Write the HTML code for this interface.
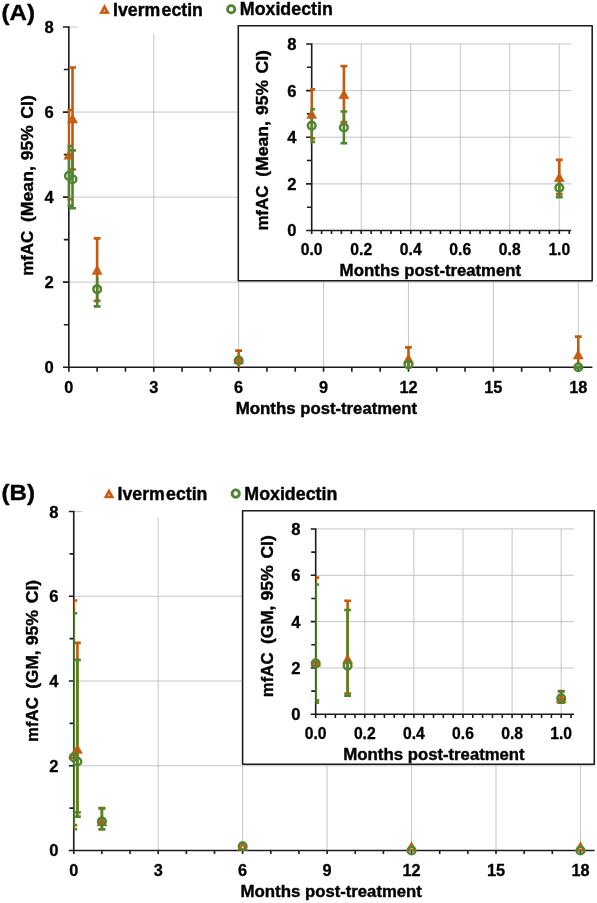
<!DOCTYPE html>
<html><head><meta charset="utf-8"><title>mfAC</title>
<style>html,body{margin:0;padding:0;background:#fff}svg{display:block;will-change:transform}text{font-family:"Liberation Sans",sans-serif;font-weight:bold;fill:#000;stroke:#000;stroke-width:.4px;stroke-linejoin:round}text.t{stroke-width:.3px}</style></head><body>
<svg width="597" height="903" viewBox="0 0 597 903">
<defs><filter id="soft" x="0" y="0" width="597" height="903" filterUnits="userSpaceOnUse"><feGaussianBlur stdDeviation="0.5"/></filter></defs>
<rect width="597" height="903" fill="#fff"/>
<g filter="url(#soft)">
<clipPath id="cAm"><rect x="67.50" y="22.04" width="533.55" height="346.46"/></clipPath>
<line x1="153.75" x2="153.75" y1="33.54" y2="367.20" stroke="#C2C2C2" stroke-width="0.95"/>
<line x1="238.65" x2="238.65" y1="33.54" y2="367.20" stroke="#C2C2C2" stroke-width="0.95"/>
<line x1="323.55" x2="323.55" y1="33.54" y2="367.20" stroke="#C2C2C2" stroke-width="0.95"/>
<line x1="408.45" x2="408.45" y1="33.54" y2="367.20" stroke="#C2C2C2" stroke-width="0.95"/>
<line x1="493.35" x2="493.35" y1="33.54" y2="367.20" stroke="#C2C2C2" stroke-width="0.95"/>
<line x1="578.25" x2="578.25" y1="33.54" y2="367.20" stroke="#C2C2C2" stroke-width="0.95"/>
<line x1="68.85" x2="592.40" y1="282.16" y2="282.16" stroke="#C2C2C2" stroke-width="0.95"/>
<line x1="68.85" x2="592.40" y1="197.12" y2="197.12" stroke="#C2C2C2" stroke-width="0.95"/>
<line x1="68.85" x2="592.40" y1="112.08" y2="112.08" stroke="#C2C2C2" stroke-width="0.95"/>
<line x1="68.85" x2="77.35" y1="27.04" y2="27.04" stroke="#C2C2C2" stroke-width="0.95"/>
<path d="M68.85 26.24 V367.20 M68.05 367.20 H592.40 M62.95 367.20 H68.85 M63.85 324.68 H68.85 M62.95 282.16 H68.85 M63.85 239.64 H68.85 M62.95 197.12 H68.85 M63.85 154.60 H68.85 M62.95 112.08 H68.85 M63.85 69.56 H68.85 M62.95 27.04 H68.85 M68.85 367.20 V371.70 M97.15 367.20 V371.70 M125.45 367.20 V371.70 M153.75 367.20 V371.70 M182.05 367.20 V371.70 M210.35 367.20 V371.70 M238.65 367.20 V371.70 M266.95 367.20 V371.70 M295.25 367.20 V371.70 M323.55 367.20 V371.70 M351.85 367.20 V371.70 M380.15 367.20 V371.70 M408.45 367.20 V371.70 M436.75 367.20 V371.70 M465.05 367.20 V371.70 M493.35 367.20 V371.70 M521.65 367.20 V371.70 M549.95 367.20 V371.70 M578.25 367.20 V371.70" stroke="#1a1a1a" stroke-width="1.6" fill="none"/>
<text x="53.65" y="373.18" font-size="16.6" text-anchor="end" fill="#000" class="t">0</text>
<text x="53.65" y="288.14" font-size="16.6" text-anchor="end" fill="#000" class="t">2</text>
<text x="53.65" y="203.1" font-size="16.6" text-anchor="end" fill="#000" class="t">4</text>
<text x="53.65" y="118.06" font-size="16.6" text-anchor="end" fill="#000" class="t">6</text>
<text x="53.65" y="33.02" font-size="16.6" text-anchor="end" fill="#000" class="t">8</text>
<text x="68.85" y="393.0" font-size="16.3" text-anchor="middle" fill="#000" class="t">0</text>
<text x="153.75" y="393.0" font-size="16.3" text-anchor="middle" fill="#000" class="t">3</text>
<text x="238.65" y="393.0" font-size="16.3" text-anchor="middle" fill="#000" class="t">6</text>
<text x="323.55" y="393.0" font-size="16.3" text-anchor="middle" fill="#000" class="t">9</text>
<text x="408.45" y="393.0" font-size="16.3" text-anchor="middle" fill="#000" class="t">12</text>
<text x="493.35" y="393.0" font-size="16.3" text-anchor="middle" fill="#000" class="t">15</text>
<text x="578.25" y="393.0" font-size="16.3" text-anchor="middle" fill="#000" class="t">18</text>
<g clip-path="url(#cAm)">
<path d="M68.85 199.25 V109.95 M65.45 109.95 H72.25 M65.45 199.25 H72.25" stroke="#C55A11" stroke-width="2.6" fill="none"/>
<path d="M72.53 169.48 V67.43 M69.13 67.43 H75.93 M69.13 169.48 H75.93" stroke="#C55A11" stroke-width="2.6" fill="none"/>
<path d="M97.15 300.87 V238.36 M93.75 238.36 H100.55 M93.75 300.87 H100.55" stroke="#C55A11" stroke-width="2.6" fill="none"/>
<path d="M238.65 367.20 V350.62 M235.25 350.62 H242.05" stroke="#C55A11" stroke-width="2.6" fill="none"/>
<path d="M408.45 367.20 V347.39 M405.05 347.39 H411.85" stroke="#C55A11" stroke-width="2.6" fill="none"/>
<path d="M578.25 362.95 V336.59 M574.85 336.59 H581.65" stroke="#C55A11" stroke-width="2.6" fill="none"/>
<path d="M68.85 205.62 V146.10 M65.45 146.10 H72.25 M65.45 205.62 H72.25" stroke="#4F8530" stroke-width="2.6" fill="none"/>
<path d="M72.53 208.18 V150.35 M69.13 150.35 H75.93 M69.13 208.18 H75.93" stroke="#4F8530" stroke-width="2.6" fill="none"/>
<path d="M97.15 306.40 V277.06 M93.75 306.40 H100.55" stroke="#4F8530" stroke-width="2.6" fill="none"/>
<path d="M408.45 367.20 V361.25" stroke="#4F8530" stroke-width="2.6" fill="none"/>
</g>
<path d="M574.85 367.20 H581.65" stroke="#4F8530" stroke-width="3.4" fill="none"/>
<path d="M68.85 149.95 L73.95 159.25 L63.75 159.25 Z M68.85 154.01 L70.66 157.30 L67.04 157.30 Z" fill="#C55A11" fill-rule="evenodd" stroke="#C55A11" stroke-width="0.4" stroke-linejoin="round"/>
<path d="M72.53 113.81 L77.63 123.11 L67.43 123.11 Z M72.53 117.86 L74.34 121.16 L70.72 121.16 Z" fill="#C55A11" fill-rule="evenodd" stroke="#C55A11" stroke-width="0.4" stroke-linejoin="round"/>
<path d="M97.15 265.18 L102.25 274.48 L92.05 274.48 Z M97.15 269.23 L98.96 272.53 L95.34 272.53 Z" fill="#C55A11" fill-rule="evenodd" stroke="#C55A11" stroke-width="0.4" stroke-linejoin="round"/>
<path d="M238.65 354.47 L243.75 363.77 L233.55 363.77 Z M238.65 358.53 L240.46 361.82 L236.84 361.82 Z" fill="#C55A11" fill-rule="evenodd" stroke="#C55A11" stroke-width="0.4" stroke-linejoin="round"/>
<path d="M408.45 353.75 L413.55 363.05 L403.35 363.05 Z M408.45 357.80 L410.26 361.10 L406.64 361.10 Z" fill="#C55A11" fill-rule="evenodd" stroke="#C55A11" stroke-width="0.4" stroke-linejoin="round"/>
<path d="M578.25 349.79 L583.35 359.09 L573.15 359.09 Z M578.25 353.85 L580.06 357.14 L576.44 357.14 Z" fill="#C55A11" fill-rule="evenodd" stroke="#C55A11" stroke-width="0.4" stroke-linejoin="round"/>
<circle cx="68.85" cy="175.86" r="3.8" fill="none" stroke="#4F8530" stroke-width="2.5"/>
<circle cx="72.53" cy="179.26" r="3.8" fill="none" stroke="#4F8530" stroke-width="2.5"/>
<circle cx="97.15" cy="289.18" r="3.8" fill="none" stroke="#4F8530" stroke-width="2.5"/>
<circle cx="238.65" cy="360.48" r="3.8" fill="none" stroke="#4F8530" stroke-width="2.5"/>
<circle cx="408.45" cy="364.52" r="3.8" fill="none" stroke="#4F8530" stroke-width="2.5"/>
<circle cx="578.25" cy="367.20" r="3.8" fill="none" stroke="#4F8530" stroke-width="2.5"/>
<rect x="238.3" y="25.7" width="353.90000000000003" height="255.0" fill="#fff" stroke="#1a1a1a" stroke-width="1.55" stroke-linejoin="round"/>
<clipPath id="cAi"><rect x="310.35" y="38.94" width="269.48" height="192.86"/></clipPath>
<line x1="361.22" x2="361.22" y1="43.94" y2="230.50" stroke="#C2C2C2" stroke-width="0.95"/>
<line x1="410.74" x2="410.74" y1="43.94" y2="230.50" stroke="#C2C2C2" stroke-width="0.95"/>
<line x1="460.26" x2="460.26" y1="43.94" y2="230.50" stroke="#C2C2C2" stroke-width="0.95"/>
<line x1="509.78" x2="509.78" y1="43.94" y2="230.50" stroke="#C2C2C2" stroke-width="0.95"/>
<line x1="559.30" x2="559.30" y1="43.94" y2="230.50" stroke="#C2C2C2" stroke-width="0.95"/>
<line x1="311.70" x2="571.18" y1="183.86" y2="183.86" stroke="#C2C2C2" stroke-width="0.95"/>
<line x1="311.70" x2="571.18" y1="137.22" y2="137.22" stroke="#C2C2C2" stroke-width="0.95"/>
<line x1="311.70" x2="571.18" y1="90.58" y2="90.58" stroke="#C2C2C2" stroke-width="0.95"/>
<line x1="311.70" x2="571.18" y1="43.94" y2="43.94" stroke="#C2C2C2" stroke-width="0.95"/>
<path d="M311.70 43.14 V230.50 M310.90 230.50 H571.18 M306.10 230.50 H311.70 M306.90 207.18 H311.70 M306.10 183.86 H311.70 M306.90 160.54 H311.70 M306.10 137.22 H311.70 M306.90 113.90 H311.70 M306.10 90.58 H311.70 M306.90 67.26 H311.70 M306.10 43.94 H311.70 M311.70 230.50 V234.10 M321.60 230.50 V234.10 M331.51 230.50 V234.10 M341.41 230.50 V234.10 M351.32 230.50 V234.10 M361.22 230.50 V234.10 M371.12 230.50 V234.10 M381.03 230.50 V234.10 M390.93 230.50 V234.10 M400.84 230.50 V234.10 M410.74 230.50 V234.10 M420.64 230.50 V234.10 M430.55 230.50 V234.10 M440.45 230.50 V234.10 M450.36 230.50 V234.10 M460.26 230.50 V234.10 M470.16 230.50 V234.10 M480.07 230.50 V234.10 M489.97 230.50 V234.10 M499.88 230.50 V234.10 M509.78 230.50 V234.10 M519.68 230.50 V234.10 M529.59 230.50 V234.10 M539.49 230.50 V234.10 M549.40 230.50 V234.10 M559.30 230.50 V234.10 M569.20 230.50 V234.10" stroke="#1a1a1a" stroke-width="1.6" fill="none"/>
<text x="296.5" y="236.48" font-size="16.6" text-anchor="end" fill="#000" class="t">0</text>
<text x="296.5" y="189.84" font-size="16.6" text-anchor="end" fill="#000" class="t">2</text>
<text x="296.5" y="143.2" font-size="16.6" text-anchor="end" fill="#000" class="t">4</text>
<text x="296.5" y="96.56" font-size="16.6" text-anchor="end" fill="#000" class="t">6</text>
<text x="296.5" y="49.92" font-size="16.6" text-anchor="end" fill="#000" class="t">8</text>
<text x="311.7" y="254.7" font-size="15.7" text-anchor="middle" fill="#000" class="t">0.0</text>
<text x="361.22" y="254.7" font-size="15.7" text-anchor="middle" fill="#000" class="t">0.2</text>
<text x="410.74" y="254.7" font-size="15.7" text-anchor="middle" fill="#000" class="t">0.4</text>
<text x="460.26" y="254.7" font-size="15.7" text-anchor="middle" fill="#000" class="t">0.6</text>
<text x="509.78" y="254.7" font-size="15.7" text-anchor="middle" fill="#000" class="t">0.8</text>
<text x="559.3" y="254.7" font-size="15.7" text-anchor="middle" fill="#000" class="t">1.0</text>
<g clip-path="url(#cAi)">
<path d="M311.70 138.39 V89.41 M308.30 89.41 H315.10 M308.30 138.39 H315.10" stroke="#C55A11" stroke-width="2.6" fill="none"/>
<path d="M343.89 122.06 V66.09 M340.49 66.09 H347.29 M340.49 122.06 H347.29" stroke="#C55A11" stroke-width="2.6" fill="none"/>
<path d="M559.30 194.12 V159.84 M555.90 159.84 H562.70 M555.90 194.12 H562.70" stroke="#C55A11" stroke-width="2.6" fill="none"/>
<path d="M311.70 141.88 V109.24 M308.30 109.24 H315.10 M308.30 141.88 H315.10" stroke="#4F8530" stroke-width="2.6" fill="none"/>
<path d="M343.89 143.28 V111.57 M340.49 111.57 H347.29 M340.49 143.28 H347.29" stroke="#4F8530" stroke-width="2.6" fill="none"/>
<path d="M559.30 197.15 V181.06 M555.90 197.15 H562.70" stroke="#4F8530" stroke-width="2.6" fill="none"/>
</g>
<path d="M311.70 109.25 L316.80 118.55 L306.60 118.55 Z M311.70 113.31 L313.51 116.60 L309.89 116.60 Z" fill="#C55A11" fill-rule="evenodd" stroke="#C55A11" stroke-width="0.4" stroke-linejoin="round"/>
<path d="M343.89 89.43 L348.99 98.73 L338.79 98.73 Z M343.89 93.48 L345.69 96.78 L342.08 96.78 Z" fill="#C55A11" fill-rule="evenodd" stroke="#C55A11" stroke-width="0.4" stroke-linejoin="round"/>
<path d="M559.30 172.45 L564.40 181.75 L554.20 181.75 Z M559.30 176.50 L561.11 179.80 L557.49 179.80 Z" fill="#C55A11" fill-rule="evenodd" stroke="#C55A11" stroke-width="0.4" stroke-linejoin="round"/>
<circle cx="311.70" cy="125.56" r="3.8" fill="none" stroke="#4F8530" stroke-width="2.5"/>
<circle cx="343.89" cy="127.43" r="3.8" fill="none" stroke="#4F8530" stroke-width="2.5"/>
<circle cx="559.30" cy="187.71" r="3.8" fill="none" stroke="#4F8530" stroke-width="2.5"/>
<text x="235.7" y="413.7" font-size="16.6" text-anchor="start" fill="#000" textLength="60.0" lengthAdjust="spacingAndGlyphs">Months</text>
<text x="300.3" y="413.7" font-size="16.6" text-anchor="start" fill="#000" textLength="116.8" lengthAdjust="spacingAndGlyphs">post-treatment</text>
<text x="339.6" y="275.5" font-size="16.6" text-anchor="start" fill="#000" textLength="60.0" lengthAdjust="spacingAndGlyphs">Months</text>
<text x="404.2" y="275.5" font-size="16.6" text-anchor="start" fill="#000" textLength="116.8" lengthAdjust="spacingAndGlyphs">post-treatment</text>
<text x="32.7" y="275.8" font-size="17.4" fill="#000" textLength="44.9" lengthAdjust="spacingAndGlyphs" transform="rotate(-90 32.7 275.8)">mfAC</text>
<text x="32.7" y="222.0" font-size="17.4" fill="#000" textLength="55.8" lengthAdjust="spacingAndGlyphs" transform="rotate(-90 32.7 222.0)">(Mean,</text>
<text x="32.7" y="160.3" font-size="17.4" fill="#000" textLength="35.1" lengthAdjust="spacingAndGlyphs" transform="rotate(-90 32.7 160.3)">95%</text>
<text x="32.7" y="118.8" font-size="17.4" fill="#000" textLength="23.6" lengthAdjust="spacingAndGlyphs" transform="rotate(-90 32.7 118.8)">CI)</text>
<text x="267.9" y="230.6" font-size="17.4" fill="#000" textLength="44.9" lengthAdjust="spacingAndGlyphs" transform="rotate(-90 267.9 230.6)">mfAC</text>
<text x="267.9" y="176.8" font-size="17.4" fill="#000" textLength="55.8" lengthAdjust="spacingAndGlyphs" transform="rotate(-90 267.9 176.8)">(Mean,</text>
<text x="267.9" y="115.1" font-size="17.4" fill="#000" textLength="35.1" lengthAdjust="spacingAndGlyphs" transform="rotate(-90 267.9 115.1)">95%</text>
<text x="267.9" y="73.6" font-size="17.4" fill="#000" textLength="23.6" lengthAdjust="spacingAndGlyphs" transform="rotate(-90 267.9 73.6)">CI)</text>
<text x="1.6" y="20.2" font-size="22.6" text-anchor="start" fill="#000" textLength="33.4" lengthAdjust="spacingAndGlyphs">(A)</text>
<path d="M104.50 4.40 L109.60 13.70 L99.40 13.70 Z M104.50 9.18 L105.72 11.40 L103.28 11.40 Z" fill="#C55A11" fill-rule="evenodd" stroke="#C55A11" stroke-width="0.4" stroke-linejoin="round"/>
<text x="113.1" y="15.5" font-size="17.7" text-anchor="start" fill="#000">Iverm</text>
<text x="161.6" y="15.5" font-size="17.7" text-anchor="start" fill="#000">ectin</text>
<circle cx="231.20" cy="9.25" r="3.65" fill="none" stroke="#4F8530" stroke-width="2.9"/>
<text x="239.8" y="15.4" font-size="17.7" text-anchor="start" fill="#000" textLength="93.0" lengthAdjust="spacingAndGlyphs">Moxidectin</text>
<clipPath id="cBm"><rect x="73.65" y="506.54" width="530.77" height="345.26"/></clipPath>
<line x1="158.20" x2="158.20" y1="518.04" y2="850.50" stroke="#C2C2C2" stroke-width="0.95"/>
<line x1="242.65" x2="242.65" y1="518.04" y2="850.50" stroke="#C2C2C2" stroke-width="0.95"/>
<line x1="327.10" x2="327.10" y1="518.04" y2="850.50" stroke="#C2C2C2" stroke-width="0.95"/>
<line x1="411.55" x2="411.55" y1="518.04" y2="850.50" stroke="#C2C2C2" stroke-width="0.95"/>
<line x1="496.00" x2="496.00" y1="518.04" y2="850.50" stroke="#C2C2C2" stroke-width="0.95"/>
<line x1="580.45" x2="580.45" y1="518.04" y2="850.50" stroke="#C2C2C2" stroke-width="0.95"/>
<line x1="73.75" x2="594.52" y1="765.76" y2="765.76" stroke="#C2C2C2" stroke-width="0.95"/>
<line x1="73.75" x2="594.52" y1="681.02" y2="681.02" stroke="#C2C2C2" stroke-width="0.95"/>
<line x1="73.75" x2="594.52" y1="596.28" y2="596.28" stroke="#C2C2C2" stroke-width="0.95"/>
<line x1="73.75" x2="82.25" y1="511.54" y2="511.54" stroke="#C2C2C2" stroke-width="0.95"/>
<path d="M73.75 510.74 V850.50 M72.95 850.50 H594.52 M68.85 850.50 H73.75 M69.55 808.13 H73.75 M68.85 765.76 H73.75 M69.55 723.39 H73.75 M68.85 681.02 H73.75 M69.55 638.65 H73.75 M68.85 596.28 H73.75 M69.55 553.91 H73.75 M68.85 511.54 H73.75 M73.75 850.50 V854.10 M101.90 850.50 V854.10 M130.05 850.50 V854.10 M158.20 850.50 V854.10 M186.35 850.50 V854.10 M214.50 850.50 V854.10 M242.65 850.50 V854.10 M270.80 850.50 V854.10 M298.95 850.50 V854.10 M327.10 850.50 V854.10 M355.25 850.50 V854.10 M383.40 850.50 V854.10 M411.55 850.50 V854.10 M439.70 850.50 V854.10 M467.85 850.50 V854.10 M496.00 850.50 V854.10 M524.15 850.50 V854.10 M552.30 850.50 V854.10 M580.45 850.50 V854.10" stroke="#1a1a1a" stroke-width="1.6" fill="none"/>
<text x="58.55" y="856.48" font-size="16.6" text-anchor="end" fill="#000" class="t">0</text>
<text x="58.55" y="771.74" font-size="16.6" text-anchor="end" fill="#000" class="t">2</text>
<text x="58.55" y="687.0" font-size="16.6" text-anchor="end" fill="#000" class="t">4</text>
<text x="58.55" y="602.26" font-size="16.6" text-anchor="end" fill="#000" class="t">6</text>
<text x="58.55" y="517.52" font-size="16.6" text-anchor="end" fill="#000" class="t">8</text>
<text x="73.75" y="876.3" font-size="16.3" text-anchor="middle" fill="#000" class="t">0</text>
<text x="158.2" y="876.3" font-size="16.3" text-anchor="middle" fill="#000" class="t">3</text>
<text x="242.65" y="876.3" font-size="16.3" text-anchor="middle" fill="#000" class="t">6</text>
<text x="327.1" y="876.3" font-size="16.3" text-anchor="middle" fill="#000" class="t">9</text>
<text x="411.55" y="876.3" font-size="16.3" text-anchor="middle" fill="#000" class="t">12</text>
<text x="496.0" y="876.3" font-size="16.3" text-anchor="middle" fill="#000" class="t">15</text>
<text x="580.45" y="876.3" font-size="16.3" text-anchor="middle" fill="#000" class="t">18</text>
<g clip-path="url(#cBm)">
<path d="M73.75 825.08 V600.52 M70.35 600.52 H77.15 M70.35 825.08 H77.15" stroke="#C55A11" stroke-width="2.6" fill="none"/>
<path d="M77.41 812.37 V642.89 M74.01 642.89 H80.81 M74.01 812.37 H80.81" stroke="#C55A11" stroke-width="2.6" fill="none"/>
<path d="M101.90 829.32 V808.13 M98.50 808.13 H105.30 M98.50 829.32 H105.30" stroke="#C55A11" stroke-width="2.6" fill="none"/>
<path d="M73.75 829.32 V613.23 M70.35 613.23 H77.15 M70.35 829.32 H77.15" stroke="#4F8530" stroke-width="2.6" fill="none"/>
<path d="M77.41 816.60 V659.84 M74.01 659.84 H80.81 M74.01 816.60 H80.81" stroke="#4F8530" stroke-width="2.6" fill="none"/>
<path d="M101.90 829.32 V808.34 M98.50 808.34 H105.30 M98.50 829.32 H105.30" stroke="#4F8530" stroke-width="2.6" fill="none"/>
</g>
<path d="M73.75 749.67 L78.85 758.97 L68.65 758.97 Z M73.75 753.73 L75.56 757.02 L71.94 757.02 Z" fill="#C55A11" fill-rule="evenodd" stroke="#C55A11" stroke-width="0.4" stroke-linejoin="round"/>
<path d="M77.41 744.16 L82.51 753.46 L72.31 753.46 Z M77.41 748.22 L79.22 751.51 L75.60 751.51 Z" fill="#C55A11" fill-rule="evenodd" stroke="#C55A11" stroke-width="0.4" stroke-linejoin="round"/>
<path d="M101.90 816.61 L107.00 825.91 L96.80 825.91 Z M101.90 820.67 L103.71 823.96 L100.09 823.96 Z" fill="#C55A11" fill-rule="evenodd" stroke="#C55A11" stroke-width="0.4" stroke-linejoin="round"/>
<path d="M242.65 841.19 L247.75 850.49 L237.55 850.49 Z M242.65 845.24 L244.46 848.54 L240.84 848.54 Z" fill="#C55A11" fill-rule="evenodd" stroke="#C55A11" stroke-width="0.4" stroke-linejoin="round"/>
<path d="M411.55 841.61 L416.65 850.91 L406.45 850.91 Z M411.55 845.67 L413.36 848.96 L409.74 848.96 Z" fill="#C55A11" fill-rule="evenodd" stroke="#C55A11" stroke-width="0.4" stroke-linejoin="round"/>
<path d="M580.45 841.61 L585.55 850.91 L575.35 850.91 Z M580.45 845.67 L582.26 848.96 L578.64 848.96 Z" fill="#C55A11" fill-rule="evenodd" stroke="#C55A11" stroke-width="0.4" stroke-linejoin="round"/>
<circle cx="73.75" cy="757.29" r="3.8" fill="none" stroke="#4F8530" stroke-width="2.5"/>
<circle cx="77.41" cy="761.52" r="3.8" fill="none" stroke="#4F8530" stroke-width="2.5"/>
<circle cx="101.90" cy="821.43" r="3.8" fill="none" stroke="#4F8530" stroke-width="2.5"/>
<circle cx="242.65" cy="846.26" r="3.8" fill="none" stroke="#4F8530" stroke-width="2.5"/>
<circle cx="411.55" cy="850.50" r="3.8" fill="none" stroke="#4F8530" stroke-width="2.5"/>
<circle cx="580.45" cy="850.50" r="3.8" fill="none" stroke="#4F8530" stroke-width="2.5"/>
<rect x="242.6" y="510.7" width="351.69999999999993" height="253.59999999999997" fill="#fff" stroke="#1a1a1a" stroke-width="1.55" stroke-linejoin="round"/>
<clipPath id="cBi"><rect x="315.60" y="523.94" width="268.39" height="191.66"/></clipPath>
<line x1="364.80" x2="364.80" y1="528.94" y2="714.30" stroke="#C2C2C2" stroke-width="0.95"/>
<line x1="413.90" x2="413.90" y1="528.94" y2="714.30" stroke="#C2C2C2" stroke-width="0.95"/>
<line x1="463.00" x2="463.00" y1="528.94" y2="714.30" stroke="#C2C2C2" stroke-width="0.95"/>
<line x1="512.10" x2="512.10" y1="528.94" y2="714.30" stroke="#C2C2C2" stroke-width="0.95"/>
<line x1="561.20" x2="561.20" y1="528.94" y2="714.30" stroke="#C2C2C2" stroke-width="0.95"/>
<line x1="315.70" x2="574.09" y1="667.96" y2="667.96" stroke="#C2C2C2" stroke-width="0.95"/>
<line x1="315.70" x2="574.09" y1="621.62" y2="621.62" stroke="#C2C2C2" stroke-width="0.95"/>
<line x1="315.70" x2="574.09" y1="575.28" y2="575.28" stroke="#C2C2C2" stroke-width="0.95"/>
<line x1="315.70" x2="574.09" y1="528.94" y2="528.94" stroke="#C2C2C2" stroke-width="0.95"/>
<path d="M315.70 528.14 V714.30 M314.90 714.30 H574.09 M310.70 714.30 H315.70 M311.30 691.13 H315.70 M310.70 667.96 H315.70 M311.30 644.79 H315.70 M310.70 621.62 H315.70 M311.30 598.45 H315.70 M310.70 575.28 H315.70 M311.30 552.11 H315.70 M310.70 528.94 H315.70 M315.70 714.30 V717.90 M325.52 714.30 V717.90 M335.34 714.30 V717.90 M345.16 714.30 V717.90 M354.98 714.30 V717.90 M364.80 714.30 V717.90 M374.62 714.30 V717.90 M384.44 714.30 V717.90 M394.26 714.30 V717.90 M404.08 714.30 V717.90 M413.90 714.30 V717.90 M423.72 714.30 V717.90 M433.54 714.30 V717.90 M443.36 714.30 V717.90 M453.18 714.30 V717.90 M463.00 714.30 V717.90 M472.82 714.30 V717.90 M482.64 714.30 V717.90 M492.46 714.30 V717.90 M502.28 714.30 V717.90 M512.10 714.30 V717.90 M521.92 714.30 V717.90 M531.74 714.30 V717.90 M541.56 714.30 V717.90 M551.38 714.30 V717.90 M561.20 714.30 V717.90 M571.02 714.30 V717.90" stroke="#1a1a1a" stroke-width="1.6" fill="none"/>
<text x="300.5" y="720.28" font-size="16.6" text-anchor="end" fill="#000" class="t">0</text>
<text x="300.5" y="673.94" font-size="16.6" text-anchor="end" fill="#000" class="t">2</text>
<text x="300.5" y="627.6" font-size="16.6" text-anchor="end" fill="#000" class="t">4</text>
<text x="300.5" y="581.26" font-size="16.6" text-anchor="end" fill="#000" class="t">6</text>
<text x="300.5" y="534.92" font-size="16.6" text-anchor="end" fill="#000" class="t">8</text>
<text x="315.7" y="738.5" font-size="15.7" text-anchor="middle" fill="#000" class="t">0.0</text>
<text x="364.8" y="738.5" font-size="15.7" text-anchor="middle" fill="#000" class="t">0.2</text>
<text x="413.9" y="738.5" font-size="15.7" text-anchor="middle" fill="#000" class="t">0.4</text>
<text x="463.0" y="738.5" font-size="15.7" text-anchor="middle" fill="#000" class="t">0.6</text>
<text x="512.1" y="738.5" font-size="15.7" text-anchor="middle" fill="#000" class="t">0.8</text>
<text x="561.2" y="738.5" font-size="15.7" text-anchor="middle" fill="#000" class="t">1.0</text>
<g clip-path="url(#cBi)">
<path d="M315.70 700.40 V577.60 M312.30 577.60 H319.10 M312.30 700.40 H319.10" stroke="#C55A11" stroke-width="2.6" fill="none"/>
<path d="M347.62 693.45 V600.77 M344.22 600.77 H351.01 M344.22 693.45 H351.01" stroke="#C55A11" stroke-width="2.6" fill="none"/>
<path d="M561.20 702.71 V691.13 M557.80 691.13 H564.60 M557.80 702.71 H564.60" stroke="#C55A11" stroke-width="2.6" fill="none"/>
<path d="M315.70 702.71 V584.55 M312.30 584.55 H319.10 M312.30 702.71 H319.10" stroke="#4F8530" stroke-width="2.6" fill="none"/>
<path d="M347.62 695.76 V610.03 M344.22 610.03 H351.01 M344.22 695.76 H351.01" stroke="#4F8530" stroke-width="2.6" fill="none"/>
<path d="M561.20 702.71 V691.25 M557.80 691.25 H564.60 M557.80 702.71 H564.60" stroke="#4F8530" stroke-width="2.6" fill="none"/>
</g>
<path d="M315.70 657.05 L320.80 666.35 L310.60 666.35 Z M315.70 661.11 L317.51 664.40 L313.89 664.40 Z" fill="#C55A11" fill-rule="evenodd" stroke="#C55A11" stroke-width="0.4" stroke-linejoin="round"/>
<path d="M347.62 654.04 L352.72 663.34 L342.51 663.34 Z M347.62 658.10 L349.42 661.39 L345.81 661.39 Z" fill="#C55A11" fill-rule="evenodd" stroke="#C55A11" stroke-width="0.4" stroke-linejoin="round"/>
<path d="M561.20 693.66 L566.30 702.96 L556.10 702.96 Z M561.20 697.72 L563.01 701.01 L559.39 701.01 Z" fill="#C55A11" fill-rule="evenodd" stroke="#C55A11" stroke-width="0.4" stroke-linejoin="round"/>
<circle cx="315.70" cy="663.33" r="3.8" fill="none" stroke="#4F8530" stroke-width="2.5"/>
<circle cx="347.62" cy="665.64" r="3.8" fill="none" stroke="#4F8530" stroke-width="2.5"/>
<circle cx="561.20" cy="698.41" r="3.8" fill="none" stroke="#4F8530" stroke-width="2.5"/>
<text x="240.4" y="896.5" font-size="16.6" text-anchor="start" fill="#000" textLength="60.0" lengthAdjust="spacingAndGlyphs">Months</text>
<text x="305.0" y="896.5" font-size="16.6" text-anchor="start" fill="#000" textLength="116.8" lengthAdjust="spacingAndGlyphs">post-treatment</text>
<text x="343.2" y="759.5" font-size="16.6" text-anchor="start" fill="#000" textLength="60.0" lengthAdjust="spacingAndGlyphs">Months</text>
<text x="407.8" y="759.5" font-size="16.6" text-anchor="start" fill="#000" textLength="116.8" lengthAdjust="spacingAndGlyphs">post-treatment</text>
<text x="37.7" y="741.9" font-size="17.4" fill="#000" textLength="44.7" lengthAdjust="spacingAndGlyphs" transform="rotate(-90 37.7 741.9)">mfAC</text>
<text x="37.7" y="688.7" font-size="17.4" fill="#000" textLength="38.3" lengthAdjust="spacingAndGlyphs" transform="rotate(-90 37.7 688.7)">(GM,</text>
<text x="37.7" y="645.3" font-size="17.4" fill="#000" textLength="35.4" lengthAdjust="spacingAndGlyphs" transform="rotate(-90 37.7 645.3)">95%</text>
<text x="37.7" y="603.2" font-size="17.4" fill="#000" textLength="23.3" lengthAdjust="spacingAndGlyphs" transform="rotate(-90 37.7 603.2)">CI)</text>
<text x="272.8" y="697.2" font-size="17.4" fill="#000" textLength="44.7" lengthAdjust="spacingAndGlyphs" transform="rotate(-90 272.8 697.2)">mfAC</text>
<text x="272.8" y="644.0" font-size="17.4" fill="#000" textLength="38.3" lengthAdjust="spacingAndGlyphs" transform="rotate(-90 272.8 644.0)">(GM,</text>
<text x="272.8" y="600.6" font-size="17.4" fill="#000" textLength="35.4" lengthAdjust="spacingAndGlyphs" transform="rotate(-90 272.8 600.6)">95%</text>
<text x="272.8" y="558.5" font-size="17.4" fill="#000" textLength="23.3" lengthAdjust="spacingAndGlyphs" transform="rotate(-90 272.8 558.5)">CI)</text>
<text x="1.6" y="500.3" font-size="22.6" text-anchor="start" fill="#000" textLength="33.4" lengthAdjust="spacingAndGlyphs">(B)</text>
<path d="M109.00 488.70 L114.10 498.00 L103.90 498.00 Z M109.00 493.48 L110.22 495.70 L107.78 495.70 Z" fill="#C55A11" fill-rule="evenodd" stroke="#C55A11" stroke-width="0.4" stroke-linejoin="round"/>
<text x="117.6" y="499.8" font-size="17.7" text-anchor="start" fill="#000">Iverm</text>
<text x="166.1" y="499.8" font-size="17.7" text-anchor="start" fill="#000">ectin</text>
<circle cx="235.70" cy="493.55" r="3.65" fill="none" stroke="#4F8530" stroke-width="2.9"/>
<text x="244.3" y="499.7" font-size="17.7" text-anchor="start" fill="#000" textLength="93.0" lengthAdjust="spacingAndGlyphs">Moxidectin</text>
</g>
</svg></body></html>
